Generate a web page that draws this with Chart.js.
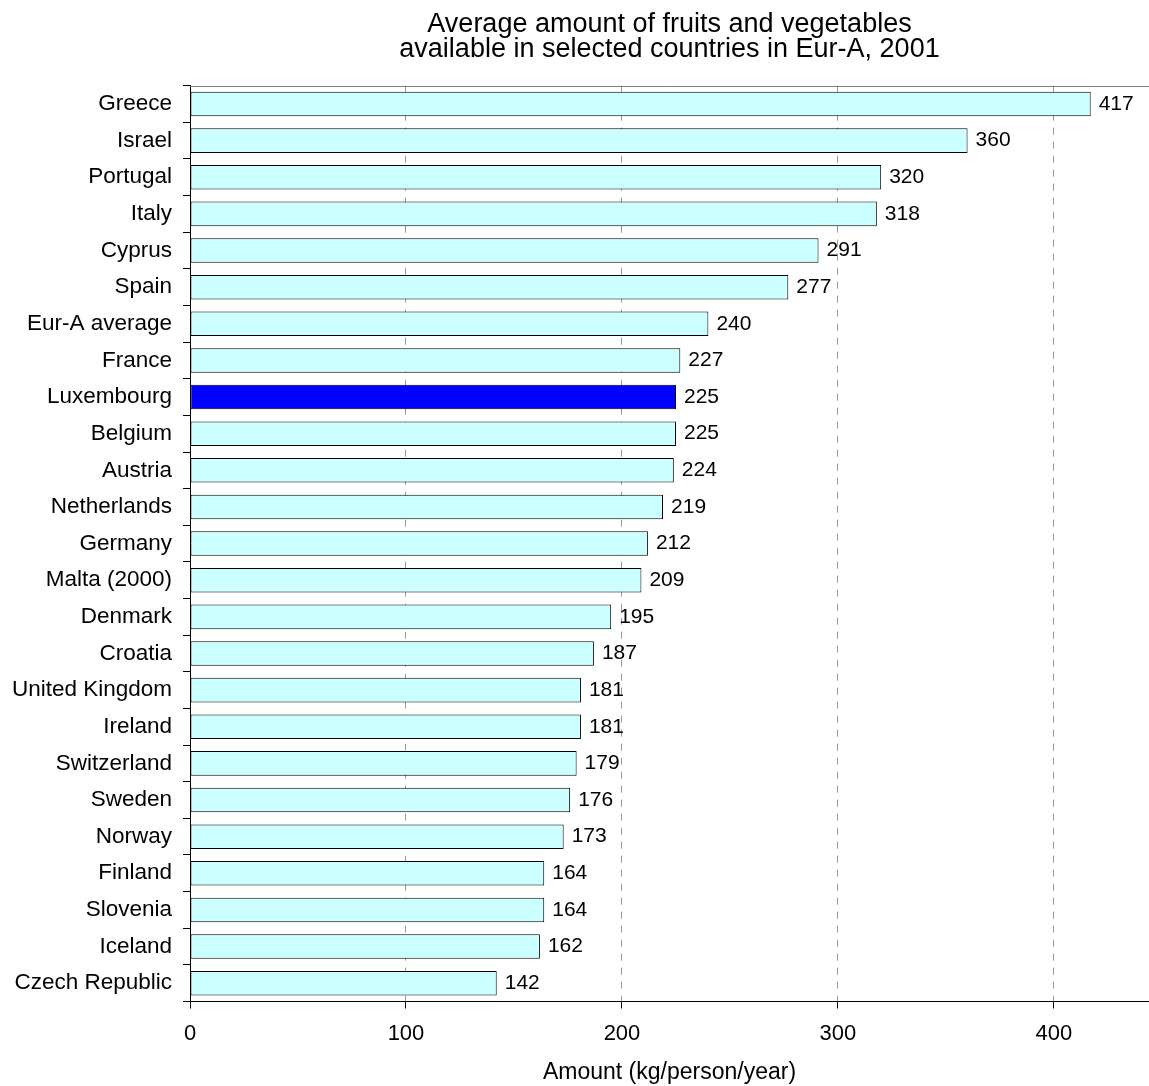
<!DOCTYPE html>
<html>
<head>
<meta charset="utf-8">
<script src="https://cdn.jsdelivr.net/npm/chart.js@4/dist/chart.umd.min.js"></script>
<style>
  html, body { margin: 0; padding: 0; background: #ffffff; }
  canvas { display: block; }
</style>
</head>
<body>
<canvas id="chart" width="1149" height="1086"></canvas>
<script>
// Fruit and vegetable availability, kg per person per year (2001)
const countries = [
  'Greece', 'Israel', 'Portugal', 'Italy', 'Cyprus', 'Spain', 'Eur-A average',
  'France', 'Luxembourg', 'Belgium', 'Austria', 'Netherlands', 'Germany',
  'Malta (2000)', 'Denmark', 'Croatia', 'United Kingdom', 'Ireland',
  'Switzerland', 'Sweden', 'Norway', 'Finland', 'Slovenia', 'Iceland',
  'Czech Republic'
];
const amounts = [
  417, 360, 320, 318, 291, 277, 240,
  227, 225, 225, 224, 219, 212,
  209, 195, 187, 181, 181,
  179, 176, 173, 164, 164, 162,
  142
];
const highlighted = 'Luxembourg';
const xTickValues = [0, 100, 200, 300, 400];
const xMax = 444;
const titleLines = [
  'Average amount of fruits and vegetables',
  'available in selected countries in Eur-A, 2001'
];
const xTitle = 'Amount (kg/person/year)';

const FONT = "'Liberation Sans', Arial, Helvetica, sans-serif";
const barFill = countries.map(c => c === highlighted ? '#0000FF' : '#CCFFFF');

// Value printed just past the end of each bar
const valueLabels = {
  id: 'valueLabels',
  afterDatasetsDraw(chart) {
    const ctx = chart.ctx;
    const meta = chart.getDatasetMeta(0);
    ctx.save();
    ctx.font = '21px ' + FONT;
    ctx.fillStyle = '#000000';
    ctx.textAlign = 'left';
    ctx.textBaseline = 'middle';
    meta.data.forEach((bar, i) => {
      ctx.fillText(String(amounts[i]), bar.x + 8, bar.y);
    });
    ctx.restore();
  }
};

// Thin grey line along the top of the plot area
const topRule = {
  id: 'topRule',
  beforeDatasetsDraw(chart) {
    const { ctx, chartArea: a } = chart;
    ctx.save();
    ctx.strokeStyle = '#808080';
    ctx.lineWidth = 1;
    ctx.beginPath();
    ctx.moveTo(a.left, Math.round(a.top) + 0.5);
    ctx.lineTo(a.right, Math.round(a.top) + 0.5);
    ctx.stroke();
    ctx.restore();
  }
};

new Chart(document.getElementById('chart'), {
  type: 'bar',
  data: {
    labels: countries,
    datasets: [{
      data: amounts,
      backgroundColor: barFill,
      borderColor: '#000000',
      borderWidth: 1,
      borderSkipped: false,
      categoryPercentage: 1,
      barPercentage: 0.67
    }]
  },
  options: {
    indexAxis: 'y',
    responsive: false,
    animation: false,
    devicePixelRatio: 1,
    layout: { padding: { left: 0, right: 0, top: 0, bottom: 0 } },
    plugins: {
      legend: { display: false },
      tooltip: { enabled: false },
      title: {
        display: true,
        text: titleLines,
        fullSize: false,
        color: '#000000',
        font: { family: FONT, size: 27, weight: 'normal', lineHeight: 0.92 },
        padding: { top: 12, bottom: 24 }
      }
    },
    scales: {
      x: {
        type: 'linear',
        min: 0,
        max: xMax,
        afterBuildTicks: (scale) => { scale.ticks = xTickValues.map(v => ({ value: v })); },
        afterFit: (scale) => { scale.height = 84.5; },
        grid: {
          color: (c) => (c.tick && c.tick.value === 0) ? 'rgba(0,0,0,0)' : '#9a9a9a',
          tickColor: '#000000',
          tickLength: 7,
          tickBorderDash: [],
          lineWidth: 1
        },
        border: { display: true, color: '#000000', width: 1, dash: [7, 7] },
        ticks: {
          color: '#000000',
          font: { family: FONT, size: 22 },
          padding: 12,
          maxRotation: 0
        },
        title: {
          display: true,
          text: xTitle,
          color: '#000000',
          font: { family: FONT, size: 23 },
          padding: { top: 0, bottom: 0 }
        }
      },
      y: {
        type: 'category',
        offset: true,
        afterFit: (scale) => { scale.width = 190; },
        grid: {
          offset: true,
          drawOnChartArea: false,
          drawTicks: true,
          tickLength: 7,
          tickColor: '#000000'
        },
        border: { display: true, color: '#000000', width: 1 },
        ticks: {
          color: '#000000',
          font: { family: FONT, size: 22.5 },
          padding: 11,
          autoSkip: false
        }
      }
    }
  },
  plugins: [topRule, valueLabels]
});
</script>
</body>
</html>
